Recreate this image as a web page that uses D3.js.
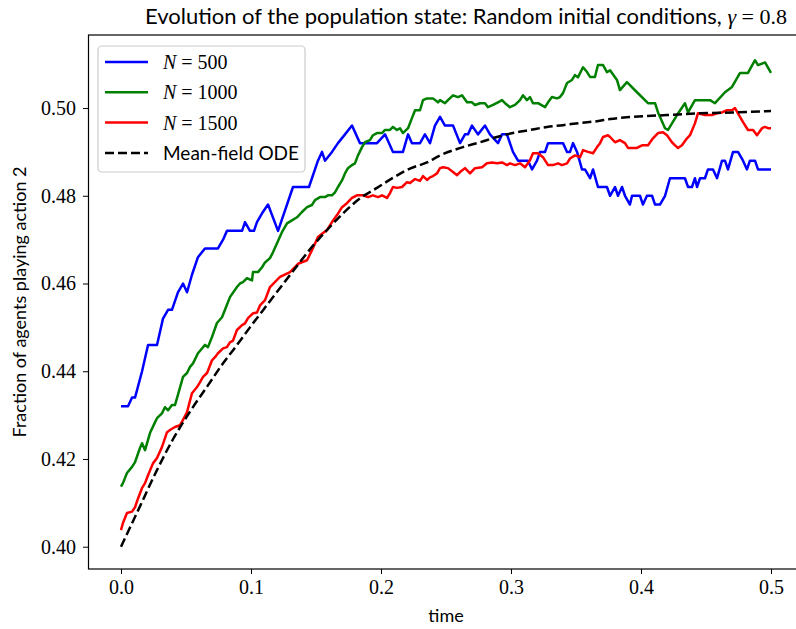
<!DOCTYPE html>
<html><head><meta charset="utf-8">
<script src="https://cdn.jsdelivr.net/npm/d3@7"></script>
<style>
body{margin:0;background:#fff;}
svg{display:block;}
</style></head>
<body>
<svg id="chart" width="796" height="629"></svg>
<script>
// ---------- data ----------
const xTicks = [0.0, 0.1, 0.2, 0.3, 0.4, 0.5];
const yTicks = [0.40, 0.42, 0.44, 0.46, 0.48, 0.50];
const legendLabels = ["N = 500", "N = 1000", "N = 1500", "Mean-field ODE"];

const n500T = [0,0.0054,0.0085,0.0108,0.0162,0.0208,0.0277,0.0323,0.0362,0.0392,0.0438,0.0477,0.0508,0.0546,0.0592,0.0646,0.0746,0.0785,0.0815,0.0931,0.0954,0.0992,0.1023,0.1046,0.1085,0.1131,0.1208,0.1323,0.1446,0.1515,0.1546,0.1569,0.1623,0.1669,0.1723,0.1777,0.1838,0.1892,0.1969,0.2031,0.2092,0.2169,0.2208,0.2238,0.23,0.2338,0.2377,0.2415,0.2454,0.2492,0.2554,0.2608,0.2646,0.2669,0.27,0.2746,0.28,0.2838,0.29,0.2931,0.2969,0.3015,0.3054,0.3131,0.3162,0.32,0.3223,0.3262,0.3285,0.34,0.3431,0.3454,0.3477,0.3508,0.3546,0.3569,0.3608,0.3631,0.3669,0.3685,0.3738,0.3762,0.38,0.3823,0.3854,0.3877,0.3915,0.3931,0.3992,0.4015,0.4046,0.4085,0.4108,0.4146,0.4185,0.4223,0.4338,0.4362,0.4392,0.4415,0.4431,0.4454,0.4492,0.4515,0.4554,0.4585,0.4623,0.4646,0.4669,0.4708,0.4746,0.4785,0.4815,0.4838,0.4877,0.49,0.5];
const n500V = [0.432,0.432,0.434,0.434,0.440,0.446,0.446,0.452,0.454,0.454,0.458,0.460,0.458,0.462,0.466,0.468,0.468,0.470,0.472,0.472,0.474,0.472,0.472,0.474,0.476,0.478,0.472,0.482,0.482,0.488,0.490,0.488,0.490,0.492,0.494,0.496,0.492,0.492,0.492,0.494,0.490,0.490,0.494,0.492,0.492,0.494,0.492,0.496,0.498,0.496,0.496,0.492,0.494,0.494,0.496,0.494,0.496,0.494,0.492,0.494,0.494,0.490,0.488,0.488,0.486,0.488,0.490,0.490,0.492,0.492,0.490,0.490,0.492,0.490,0.486,0.486,0.484,0.486,0.482,0.482,0.482,0.480,0.482,0.480,0.482,0.480,0.478,0.480,0.480,0.478,0.480,0.480,0.478,0.478,0.480,0.484,0.484,0.482,0.482,0.484,0.482,0.484,0.484,0.486,0.486,0.484,0.488,0.488,0.486,0.490,0.490,0.488,0.486,0.488,0.488,0.486,0.486];

const n1000T = [0,0.0015,0.0046,0.0085,0.0108,0.0146,0.0162,0.0185,0.0223,0.0262,0.0277,0.0315,0.0338,0.0362,0.0392,0.0415,0.0438,0.0477,0.0508,0.0531,0.0554,0.0592,0.0623,0.0646,0.0669,0.07,0.0738,0.0777,0.08,0.0838,0.0892,0.0915,0.0938,0.0969,0.1008,0.1015,0.1054,0.1085,0.1108,0.1146,0.1169,0.12,0.1238,0.1277,0.1315,0.1354,0.1392,0.1431,0.1469,0.1492,0.1531,0.1569,0.1592,0.1623,0.1646,0.1669,0.17,0.1723,0.1746,0.1777,0.18,0.1823,0.1854,0.1877,0.1915,0.1938,0.1969,0.2008,0.2031,0.2069,0.2092,0.2123,0.2146,0.2169,0.2208,0.2238,0.2262,0.23,0.2323,0.2354,0.24,0.2438,0.2454,0.2492,0.2515,0.2554,0.2592,0.2623,0.2662,0.27,0.2723,0.2762,0.28,0.2823,0.2862,0.29,0.2931,0.2954,0.2992,0.3031,0.3069,0.3092,0.3123,0.3146,0.3169,0.3208,0.3262,0.3285,0.3315,0.3354,0.3377,0.34,0.3431,0.3469,0.3492,0.3515,0.3554,0.3585,0.3608,0.3646,0.3669,0.3708,0.3738,0.3762,0.3815,0.3838,0.3892,0.3969,0.4054,0.4108,0.4131,0.4185,0.4208,0.4277,0.4338,0.4362,0.4415,0.4531,0.4569,0.4646,0.47,0.4762,0.4823,0.4877,0.49,0.4954,0.5];
const n1000V = [0.4137,0.4145,0.4168,0.4182,0.4193,0.4225,0.4236,0.422,0.4259,0.4284,0.4293,0.4304,0.4318,0.4311,0.4323,0.4323,0.4346,0.4387,0.4396,0.441,0.4418,0.4441,0.4452,0.446,0.4455,0.4478,0.451,0.4523,0.454,0.4569,0.4592,0.46,0.4603,0.4612,0.4607,0.4626,0.4626,0.4637,0.4648,0.4658,0.4671,0.4692,0.4717,0.4737,0.4744,0.4751,0.4763,0.4774,0.4779,0.479,0.4797,0.4797,0.4801,0.4801,0.4808,0.482,0.4835,0.4851,0.4863,0.487,0.4874,0.4892,0.4911,0.4922,0.4927,0.4938,0.4943,0.4943,0.495,0.495,0.4957,0.495,0.4954,0.4943,0.4954,0.4977,0.4995,0.4995,0.5018,0.5022,0.5022,0.5013,0.5018,0.5011,0.5018,0.5029,0.5025,0.5029,0.5013,0.5013,0.5007,0.5011,0.5011,0.5002,0.5007,0.5013,0.5018,0.5011,0.5002,0.5007,0.5018,0.5029,0.5018,0.5025,0.5011,0.5011,0.5002,0.5013,0.5025,0.5022,0.5025,0.5034,0.5057,0.5064,0.5075,0.507,0.5093,0.5082,0.5071,0.5071,0.5098,0.5098,0.5082,0.5086,0.5064,0.5041,0.5059,0.5036,0.5011,0.5011,0.499,0.4954,0.495,0.4984,0.5011,0.499,0.5018,0.5018,0.5011,0.5036,0.5048,0.508,0.508,0.5109,0.5098,0.5104,0.508];

const n1500T = [0,0.0015,0.0046,0.0085,0.0108,0.0131,0.0162,0.0185,0.0208,0.0246,0.0277,0.0315,0.0354,0.0377,0.0415,0.0454,0.0477,0.0508,0.0546,0.0585,0.0608,0.0631,0.0662,0.07,0.0723,0.0746,0.0785,0.0815,0.0838,0.0862,0.0892,0.0931,0.0954,0.0977,0.1015,0.1046,0.1069,0.1108,0.1131,0.1146,0.1223,0.13,0.1362,0.1431,0.1469,0.1515,0.1554,0.1585,0.1623,0.1662,0.17,0.1738,0.1777,0.1815,0.1862,0.19,0.1938,0.1977,0.2008,0.2046,0.2069,0.2092,0.2123,0.2162,0.22,0.2223,0.2262,0.23,0.2323,0.2354,0.2377,0.24,0.2431,0.2454,0.2477,0.2515,0.2554,0.2585,0.2608,0.2646,0.2685,0.2723,0.2777,0.2815,0.2854,0.2892,0.2931,0.2969,0.2992,0.3031,0.3069,0.3108,0.3146,0.3169,0.3208,0.3246,0.3285,0.3323,0.3362,0.3392,0.3431,0.3454,0.3492,0.3531,0.3554,0.3592,0.3631,0.3662,0.3685,0.3708,0.3746,0.3762,0.38,0.3838,0.3877,0.39,0.3969,0.4008,0.4054,0.4092,0.4131,0.4169,0.42,0.4238,0.4262,0.4285,0.4315,0.4354,0.4377,0.4415,0.4438,0.4492,0.4546,0.4585,0.4623,0.4662,0.47,0.4723,0.4746,0.4785,0.4823,0.4862,0.4892,0.4931,0.4954,0.4977,0.5];
const n1500V = [0.4038,0.4054,0.4077,0.408,0.409,0.411,0.4134,0.4145,0.4163,0.419,0.4202,0.4227,0.4261,0.4266,0.4273,0.4277,0.4289,0.4307,0.435,0.4364,0.4375,0.4387,0.4396,0.4425,0.4432,0.4441,0.4452,0.4455,0.4466,0.447,0.4494,0.4505,0.4509,0.4521,0.4532,0.4534,0.455,0.4562,0.458,0.4592,0.4615,0.4626,0.4645,0.4653,0.4676,0.4706,0.4715,0.4722,0.474,0.4756,0.4774,0.4783,0.4795,0.4801,0.4801,0.4797,0.4801,0.4797,0.4801,0.4795,0.4806,0.482,0.4818,0.482,0.4831,0.4829,0.4838,0.4834,0.4845,0.4836,0.4842,0.4845,0.4851,0.4863,0.4865,0.4863,0.4854,0.4847,0.4854,0.4863,0.4851,0.4863,0.4865,0.4874,0.4876,0.4874,0.4876,0.487,0.4874,0.487,0.4874,0.4865,0.4881,0.4897,0.4897,0.4888,0.487,0.487,0.4874,0.487,0.4874,0.4885,0.4892,0.4888,0.4904,0.49,0.4897,0.4911,0.492,0.4934,0.4938,0.4934,0.4922,0.4927,0.492,0.4909,0.4909,0.4915,0.4915,0.4931,0.4943,0.4945,0.4938,0.4922,0.4915,0.4909,0.4915,0.4931,0.4938,0.4965,0.4988,0.4984,0.4984,0.4988,0.499,0.4995,0.4995,0.5,0.4988,0.4968,0.495,0.495,0.4938,0.4954,0.4957,0.4954,0.4954];

const odeT = [0,0.0146,0.0277,0.04,0.0531,0.0662,0.0785,0.0862,0.0992,0.1123,0.1354,0.1454,0.1585,0.1708,0.1838,0.1969,0.2092,0.2223,0.2354,0.2454,0.2631,0.2762,0.2892,0.3015,0.3146,0.3277,0.34,0.3531,0.3662,0.3762,0.3938,0.42,0.4454,0.4708,0.5];
const odeV = [0.400,0.4092,0.4175,0.4245,0.4308,0.4365,0.4418,0.4448,0.4500,0.4551,0.4640,0.4678,0.4722,0.4760,0.4794,0.4818,0.4841,0.4862,0.4876,0.4892,0.4911,0.4922,0.4934,0.4943,0.495,0.4957,0.4961,0.4966,0.497,0.4975,0.498,0.4984,0.4988,0.499,0.4993];

const seriesColors = ["#0000ff", "#008000", "#ff0000", "#000000"];

// ---------- layout ----------
const svg = d3.select("#chart");
const plot = {left: 88, top: 35, bottom: 569};
const x = d3.scaleLinear().domain([-0.025, 0.525]).range([88.5, 803.5]);
const y = d3.scaleLinear().domain([0.39492, 0.51665]).range([plot.bottom, plot.top]);

const serif = "'Liberation Serif', 'DejaVu Serif', serif";
const sans = "Lato, 'Open Sans', sans-serif";

svg.append("clipPath").attr("id","clip").append("rect")
  .attr("x", x.range()[0]).attr("y", plot.top)
  .attr("width", x.range()[1]-x.range()[0]).attr("height", plot.bottom-plot.top);

const zip = (T, V) => T.map((t,i)=>({t, v:V[i]}));
const series = [zip(n500T,n500V), zip(n1000T,n1000V), zip(n1500T,n1500V)];
const line = d3.line().x(d=>x(d.t)).y(d=>y(d.v));
const lineSmooth = d3.line().x(d=>x(d.t)).y(d=>y(d.v)).curve(d3.curveMonotoneX);

const g = svg.append("g").attr("clip-path","url(#clip)");
series.forEach((s,i)=>{
  g.append("path").datum(s).attr("d", line)
   .attr("fill","none").attr("stroke", seriesColors[i])
   .attr("stroke-width", 2.5).attr("stroke-linejoin","round");
});
g.append("path").datum(zip(odeT,odeV)).attr("d", lineSmooth)
  .attr("fill","none").attr("stroke","#000").attr("stroke-width",2.5)
  .attr("stroke-dasharray","9,4");

// axes
const xAxis = svg.append("g").attr("transform",`translate(0,${plot.bottom})`)
  .call(d3.axisBottom(x).tickValues(xTicks).tickFormat(d3.format(".1f")).tickSize(5).tickPadding(6));
const yAxis = svg.append("g").attr("transform",`translate(${plot.left},0)`)
  .call(d3.axisLeft(y).tickValues(yTicks).tickFormat(d3.format(".2f")).tickSize(5).tickPadding(7));
[xAxis,yAxis].forEach(a=>{
  a.select(".domain").remove();
  a.selectAll(".tick line").attr("stroke","#000").attr("stroke-width",1);
  a.selectAll(".tick text").attr("font-family", serif).attr("font-size", 20).attr("fill","#000");
});

// spines
svg.append("rect").attr("x", x.range()[0]).attr("y", plot.top)
  .attr("width", x.range()[1]-x.range()[0]).attr("height", plot.bottom-plot.top)
  .attr("fill","none").attr("stroke","#000").attr("stroke-width",1.2);

// title
const title = svg.append("text").attr("x", 466).attr("y", 24).attr("text-anchor","middle")
  .attr("font-family", sans).attr("font-size", 22).attr("fill","#000");
title.append("tspan").text("Evolution of the population state: Random initial conditions, ");
title.append("tspan").attr("font-family", serif).attr("font-style","italic").text("γ");
title.append("tspan").attr("font-family", serif).text(" = 0.8");

// axis labels
svg.append("text").attr("x", 446).attr("y", 622).attr("text-anchor","middle")
  .attr("font-family", sans).attr("font-size", 18).attr("fill","#000").text("time");
svg.append("text").attr("transform","translate(26,302) rotate(-90)").attr("text-anchor","middle")
  .attr("font-family", sans).attr("font-size", 18).attr("fill","#000").text("Fraction of agents playing action 2");

// legend
const leg = svg.append("g");
leg.append("rect").attr("x",98).attr("y",46).attr("width",207).attr("height",126)
  .attr("rx",4).attr("fill","#fff").attr("fill-opacity",0.8).attr("stroke","#cccccc").attr("stroke-width",1.2);
legendLabels.forEach((lab,i)=>{
  const yy = 62 + i*30.3;
  leg.append("line").attr("x1",105).attr("x2",148).attr("y1",yy).attr("y2",yy)
    .attr("stroke", seriesColors[i]).attr("stroke-width",2.5)
    .attr("stroke-dasharray", i===3 ? "9,4" : null);
  const t = leg.append("text").attr("x",163).attr("y",yy+7).attr("fill","#000").attr("font-size",20);
  if (i<3) {
    const parts = lab.split(" = ");
    t.append("tspan").attr("font-family", serif).attr("font-style","italic").text(parts[0]);
    t.append("tspan").attr("font-family", serif).text(" = " + parts[1]);
  } else {
    t.attr("font-family", sans).attr("font-size",19).text(lab);
  }
});
</script>
</body></html>
